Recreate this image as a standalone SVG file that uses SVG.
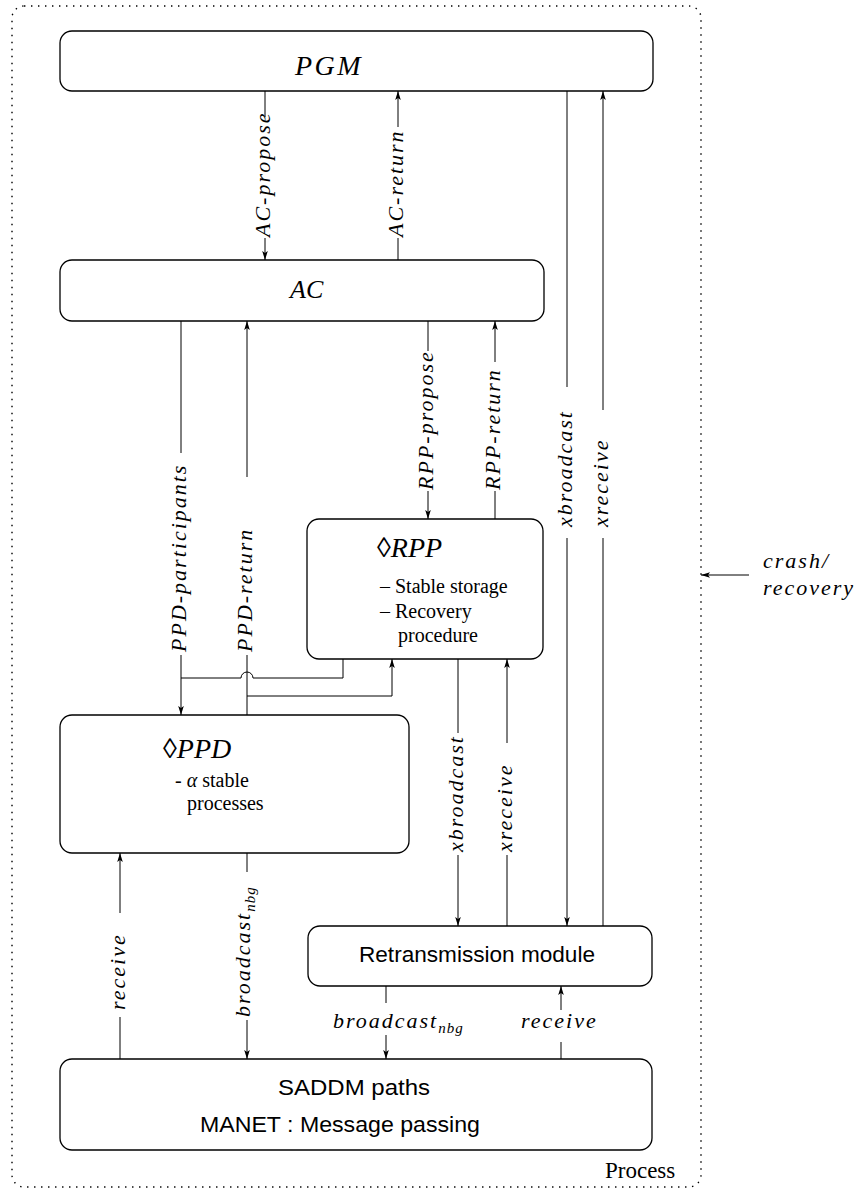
<svg xmlns="http://www.w3.org/2000/svg" width="861" height="1191" viewBox="0 0 861 1191">
<defs>
<style>
.box{fill:#fff;stroke:#000;stroke-width:1.3}
.ln{fill:none;stroke:#000;stroke-width:1}
.mi{font-family:"Liberation Serif",serif;font-style:italic;font-size:22px;letter-spacing:2px;fill:#000}
.cal{font-family:"Liberation Serif",serif;font-style:italic;font-size:28px;fill:#000}
.rm{font-family:"Liberation Serif",serif;font-size:20px;fill:#000}
.sf{font-family:"Liberation Sans",sans-serif;font-size:22px;fill:#000}
.sub{font-size:15px;letter-spacing:1px}
</style>
<marker id="ah" markerWidth="10" markerHeight="8" refX="9" refY="4" orient="auto" markerUnits="userSpaceOnUse">
<path d="M0,1.2 L9,4 L0,6.8 L2,4 z" fill="#000"/>
</marker>
</defs>
<rect width="861" height="1191" fill="#fff"/>
<g id="process">
<rect x="12" y="6" width="689" height="1181" rx="12" fill="none" stroke="#000" stroke-width="1.4" stroke-dasharray="1.4 5.6"/>
<text x="605" y="1178" class="rm" style="font-size:23px">Process</text>
</g>
<g id="pgm"><rect class="box" x="60" y="31" width="593" height="60" rx="12"/><text class="cal" x="295" y="75" style="letter-spacing:2.5px">PGM</text></g>
<g id="ac"><rect class="box" x="60" y="260" width="484" height="61" rx="12"/><text class="cal" x="290" y="298" style="font-size:26px">AC</text></g>
<g id="rpp"><rect class="box" x="307" y="519" width="236" height="140" rx="12"/>
<text class="cal" x="377" y="557">◊RPP</text>
<text class="rm" x="380" y="593">– Stable storage</text>
<text class="rm" x="380" y="618">– Recovery</text>
<text class="rm" x="398" y="642">procedure</text></g>
<g id="ppd"><rect class="box" x="60" y="715" width="349" height="138" rx="12"/>
<text class="cal" x="163" y="758">◊PPD</text>
<text class="rm" x="175" y="787">- <tspan font-style="italic">α</tspan> stable</text>
<text class="rm" x="187" y="810">processes</text></g>
<g id="retrans"><rect class="box" x="308" y="926" width="344" height="60" rx="12"/><text class="sf" x="477" y="962" text-anchor="middle" textLength="236" lengthAdjust="spacingAndGlyphs">Retransmission module</text></g>
<g id="saddm"><rect class="box" x="60" y="1059" width="592" height="91" rx="12"/>
<text class="sf" x="354" y="1095" text-anchor="middle" textLength="152" lengthAdjust="spacingAndGlyphs">SADDM paths</text>
<text class="sf" x="340" y="1132" text-anchor="middle" textLength="280" lengthAdjust="spacingAndGlyphs">MANET : Message passing</text></g>
<g id="connectors">
<path class="ln" d="M265,91 V117"/><path class="ln" d="M265,238 V260" marker-end="url(#ah)"/>
<path class="ln" d="M398,260 V238"/><path class="ln" d="M398,127 V91" marker-end="url(#ah)"/>
<path class="ln" d="M181,321 V453"/><path class="ln" d="M181,655 V715" marker-end="url(#ah)"/>
<path class="ln" d="M247,715 V655"/><path class="ln" d="M247,477 V321" marker-end="url(#ah)"/>
<path class="ln" d="M428,321 V351"/><path class="ln" d="M428,491 V519" marker-end="url(#ah)"/>
<path class="ln" d="M495,519 V491"/><path class="ln" d="M495,362 V321" marker-end="url(#ah)"/>
<path class="ln" d="M567,91 V387"/><path class="ln" d="M567,538 V926" marker-end="url(#ah)"/>
<path class="ln" d="M603,926 V538"/><path class="ln" d="M603,410 V91" marker-end="url(#ah)"/>
<path class="ln" d="M343,659 V678 H253 a6,6 0 0 0 -12,0 H181"/>
<path class="ln" d="M247,696 H392 V659" marker-end="url(#ah)"/>
<path class="ln" d="M458,659 V733"/><path class="ln" d="M458,855 V926" marker-end="url(#ah)"/>
<path class="ln" d="M507,926 V855"/><path class="ln" d="M507,743 V659" marker-end="url(#ah)"/>
<path class="ln" d="M120,1059 V1017"/><path class="ln" d="M120,913 V853" marker-end="url(#ah)"/>
<path class="ln" d="M247,853 V872"/><path class="ln" d="M247,1020 V1059" marker-end="url(#ah)"/>
<path class="ln" d="M386,986 V1003"/><path class="ln" d="M386,1035 V1059" marker-end="url(#ah)"/>
<path class="ln" d="M561,1059 V1042"/><path class="ln" d="M561,1010 V986" marker-end="url(#ah)"/>
<path class="ln" d="M749,575 H701" marker-end="url(#ah)"/>
<text class="mi" transform="translate(270,237) rotate(-90)">AC-propose</text>
<text class="mi" transform="translate(403,237) rotate(-90)">AC-return</text>
<text class="mi" transform="translate(186,652) rotate(-90)">PPD-participants</text>
<text class="mi" transform="translate(252,652) rotate(-90)">PPD-return</text>
<text class="mi" transform="translate(433,490) rotate(-90)">RPP-propose</text>
<text class="mi" transform="translate(500,490) rotate(-90)">RPP-return</text>
<text class="mi" transform="translate(572,527) rotate(-90)">xbroadcast</text>
<text class="mi" transform="translate(608,527) rotate(-90)">xreceive</text>
<text class="mi" transform="translate(463,852) rotate(-90)">xbroadcast</text>
<text class="mi" transform="translate(512,852) rotate(-90)">xreceive</text>
<text class="mi" transform="translate(125,1010) rotate(-90)">receive</text>
<text class="mi" transform="translate(250,1017) rotate(-90)">broadcast<tspan class="sub" dy="5">nbg</tspan></text>
<text class="mi" x="333" y="1028">broadcast<tspan class="sub" dy="5">nbg</tspan></text>
<text class="mi" x="521" y="1028">receive</text>
<text class="mi" x="763" y="568">crash/</text>
<text class="mi" x="763" y="595">recovery</text>
</g>
</svg>
